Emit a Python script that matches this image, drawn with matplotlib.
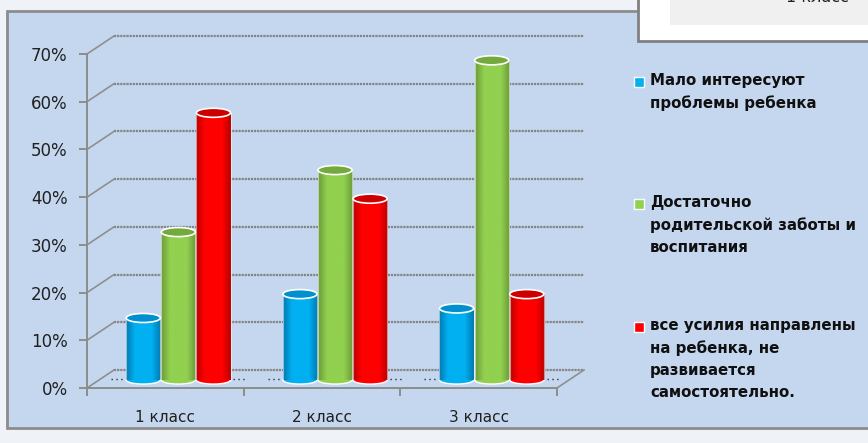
import numpy as np
import matplotlib
matplotlib.use('Agg')
import matplotlib.pyplot as plt
from matplotlib.colors import LinearSegmentedColormap
from matplotlib.patches import Ellipse, Rectangle
from matplotlib.transforms import Affine2D

categories = ['1 класс', '2 класс', '3 класс']
series_names = ['Мало интересуют\nпроблемы ребенка',
                'Достаточно\nродительской заботы и\nвоспитания',
                'все усилия направлены\nна ребенка, не\nразвивается\nсамостоятельно.']
malo = [13, 18, 15]
dostatochno = [31, 44, 67]
vse_usiliya = [56, 38, 18]
yticks = [0, 10, 20, 30, 40, 50, 60, 70]

colors = ['#00b0f0', '#92d050', '#ff0000']
darks = ['#0078b0', '#6a9a38', '#b80000']
tops = ['#0090d0', '#74aa3c', '#cc0000']

W, H = 868, 443
fig = plt.figure(figsize=(W / 100, H / 100), dpi=100, facecolor='#eff3f7')

# whole figure in pixels for the panel things
bg = fig.add_axes([0, 0, 1, 1])
bg.set_xlim(0, W)
bg.set_ylim(H, 0)
bg.axis('off')
bg.add_patch(Rectangle((7, 11), W, 417, fc='#c5d7ef', ec='#8c8c8c', lw=2))
bg.add_patch(Rectangle((638, -5), W, 46, fc='white', ec='#808080', lw=2, zorder=3))
bg.add_patch(Rectangle((670, -5), W, 30, fc='#f0f0f0', ec='none', zorder=3))
bg.text(817, -3, '1 класс', ha='center', va='center', fontsize=11.5, color='#202020', zorder=4)

# legend
legend_y = [82, 204, 327]
for name, col, ly in zip(series_names, colors, legend_y):
    bg.add_patch(Rectangle((634, ly - 5), 10, 10, fc=col, ec='white', lw=1))
    bg.text(650, ly - 9, name, va='top', ha='left', fontsize=10.8, fontweight='bold',
            color='#101010', linespacing=1.58)

# main axes: axis corner at px (87, 388), 70% at px y=54
ax = fig.add_axes([87 / W, 1 - 388 / H, 470 / W, 334 / H])
ax.patch.set_alpha(0)
ax.set_xlim(-0.5, 2.5)
ax.set_ylim(0, 70)
for s in ['top', 'right']:
    ax.spines[s].set_visible(False)
for s in ['left', 'bottom']:
    ax.spines[s].set_color('#8c8c8c')
    ax.spines[s].set_linewidth(1.4)
ax.set_xticks([-0.5, 0.5, 1.5, 2.5])
ax.set_xticklabels([])
ax.set_yticks(yticks)
ax.set_yticklabels([str(v) + '%' for v in yticks], fontsize=12, color='#202020')
ax.tick_params(axis='y', length=6, width=1.4, color='#8c8c8c', pad=8)
ax.tick_params(axis='x', length=6, width=1.4, color='#8c8c8c')
for i, c in enumerate(categories):
    ax.annotate(c, (i, 0), xytext=(0, -21), textcoords='offset points', ha='center',
                va='center', fontsize=11, color='#202020', annotation_clip=False)

# depth lines
back = ax.transData + Affine2D().translate(27, 18)
for v in yticks:
    ax.plot([-0.5, 2.5], [v, v], color='#858585', lw=1.6, ls=(0, (1, 0.4)), transform=back,
            clip_on=False, zorder=1)
    x0, y0 = ax.transData.transform((-0.5, v))
    ax.plot([x0, x0 + 27], [y0, y0 + 18], color='#8f8f8f', lw=1.2, transform=None,
            clip_on=False, zorder=1)
x0, y0 = ax.transData.transform((2.5, 0))
ax.plot([x0, x0 + 27], [y0, y0 + 18], color='#8f8f8f', lw=1.2, transform=None,
        clip_on=False, zorder=1)

# cylinders, sitting mid depth on the floor
mid = ax.transData + Affine2D().translate(13, 8)
shade = [LinearSegmentedColormap.from_list('c', [d, c, c, c, d]) for c, d in zip(colors, darks)]
bar_w = 0.218
offsets = [-1, 0, 1]
grad = np.linspace(0, 1, 64).reshape(1, -1)
all_vals = [malo, dostatochno, vse_usiliya]
for j, vals in enumerate(all_vals):
    for i, v in enumerate(vals):
        x = i + offsets[j] * 0.224
        ax.add_patch(Ellipse((x, 0), bar_w, 1.7, transform=mid, fc=colors[j], ec='white',
                             lw=1, clip_on=False, zorder=3 + j))
        im = ax.imshow(grad, cmap=shade[j], extent=(x - bar_w / 2, x + bar_w / 2, 0, v),
                       aspect='auto', zorder=3 + j, clip_on=False)
        im.set_transform(mid)
        for side in [x - bar_w / 2, x + bar_w / 2]:
            ax.plot([side, side], [0, v], color='white', lw=0.8, alpha=0.55,
                    transform=mid, clip_on=False, zorder=3 + j)
        ax.add_patch(Ellipse((x, v), bar_w, 1.9, transform=mid, fc=tops[j], ec='white',
                             lw=1.2, clip_on=False, zorder=3 + j))
    # dotted shadow specks either side of each group
for i in range(len(categories)):
    for dx in [-0.39, 0.39]:
        ax.plot([i + dx - 0.04, i + dx + 0.04], [0.2, 0.2], color='#303030', lw=1,
                ls=(0, (1, 2.5)), transform=mid, clip_on=False, zorder=2)
ax.set_xlim(-0.5, 2.5)
ax.set_ylim(0, 70)

fig.savefig('out.png', dpi=100, facecolor=fig.get_facecolor())
